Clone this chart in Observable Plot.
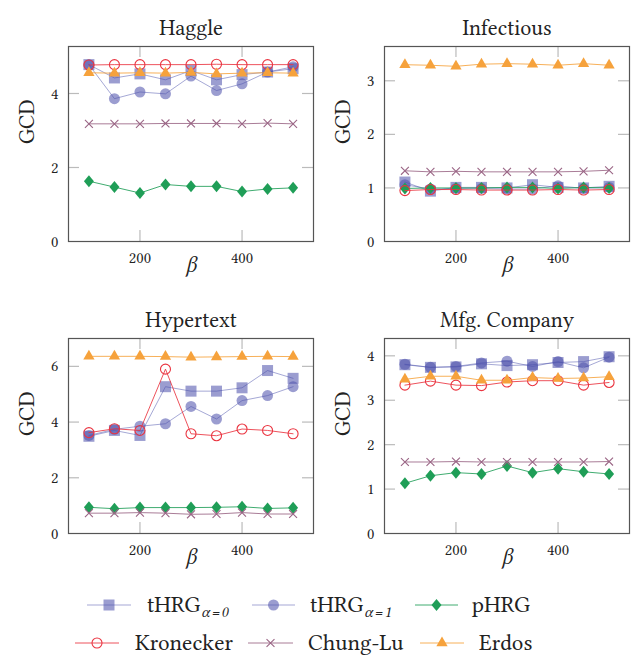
<!DOCTYPE html>
<html><head><meta charset="utf-8">
<script src="https://cdn.jsdelivr.net/npm/d3@7"></script>
<script src="https://cdn.jsdelivr.net/npm/@observablehq/plot@0.6"></script>
<style>
html,body{margin:0;padding:0;background:#fff;}
#wrap{position:relative;width:631px;height:655px;overflow:hidden;font-family:"Libertinus Serif","Liberation Serif",serif;}
#wrap > div{position:absolute;}
</style></head><body><div id="wrap"></div>
<script>
// ---------- data ----------
const betas = [100, 150, 200, 250, 300, 350, 400, 450, 500];
const seriesKeys = ["tHRG0", "tHRG1", "pHRG", "Kronecker", "ChungLu", "Erdos"];

const haggle_tHRG0     = [4.78, 4.42, 4.53, 4.37, 4.62, 4.37, 4.51, 4.58, 4.67];
const haggle_tHRG1     = [4.78, 3.86, 4.04, 3.99, 4.47, 4.08, 4.26, 4.58, 4.72];
const haggle_pHRG      = [1.63, 1.47, 1.31, 1.54, 1.49, 1.49, 1.35, 1.42, 1.45];
const haggle_Kronecker = [4.77, 4.78, 4.78, 4.78, 4.78, 4.79, 4.78, 4.78, 4.78];
const haggle_ChungLu   = [3.18, 3.18, 3.18, 3.19, 3.19, 3.19, 3.18, 3.20, 3.18];
const haggle_Erdos     = [4.56, 4.55, 4.56, 4.55, 4.57, 4.53, 4.55, 4.56, 4.55];

const infect_tHRG0     = [1.11, 0.94, 1.01, 1.01, 1.00, 1.06, 1.01, 1.00, 1.03];
const infect_tHRG1     = [1.06, 0.98, 0.99, 0.99, 0.98, 0.98, 1.04, 0.99, 1.01];
const infect_pHRG      = [0.99, 1.00, 1.00, 1.00, 1.01, 1.01, 0.99, 1.01, 1.00];
const infect_Kronecker = [0.95, 0.97, 0.97, 0.96, 0.96, 0.96, 0.97, 0.96, 0.97];
const infect_ChungLu   = [1.32, 1.30, 1.31, 1.30, 1.30, 1.30, 1.30, 1.31, 1.33];
const infect_Erdos     = [3.30, 3.29, 3.27, 3.31, 3.32, 3.31, 3.29, 3.32, 3.29];

const hyper_tHRG0      = [3.49, 3.70, 3.52, 5.27, 5.11, 5.11, 5.23, 5.85, 5.57];
const hyper_tHRG1      = [3.52, 3.74, 3.85, 3.94, 4.56, 4.11, 4.77, 4.95, 5.27];
const hyper_pHRG       = [0.94, 0.89, 0.93, 0.93, 0.93, 0.94, 0.96, 0.90, 0.92];
const hyper_Kronecker  = [3.62, 3.76, 3.70, 5.90, 3.58, 3.51, 3.75, 3.70, 3.58];
const hyper_ChungLu    = [0.73, 0.73, 0.75, 0.73, 0.69, 0.70, 0.75, 0.70, 0.70];
const hyper_Erdos      = [6.36, 6.36, 6.36, 6.35, 6.33, 6.34, 6.35, 6.36, 6.35];

const mfg_tHRG0        = [3.80, 3.74, 3.75, 3.82, 3.78, 3.80, 3.85, 3.87, 3.98];
const mfg_tHRG1        = [3.81, 3.74, 3.76, 3.84, 3.88, 3.76, 3.87, 3.73, 3.97];
const mfg_pHRG         = [1.13, 1.30, 1.37, 1.34, 1.52, 1.37, 1.46, 1.39, 1.34];
const mfg_Kronecker    = [3.34, 3.43, 3.34, 3.33, 3.41, 3.44, 3.44, 3.34, 3.40];
const mfg_ChungLu      = [1.61, 1.61, 1.62, 1.61, 1.61, 1.61, 1.61, 1.61, 1.62];
const mfg_Erdos        = [3.47, 3.54, 3.54, 3.45, 3.45, 3.51, 3.49, 3.50, 3.53];

const panelTitles = ["Haggle", "Infectious", "Hypertext", "Mfg. Company"];
const panelYMax   = [5.27, 3.64, 7.0, 4.39];
const panelYTicks = [[0, 2, 4], [0, 1, 2, 3], [0, 2, 4, 6], [0, 1, 2, 3, 4]];
const xTicks = [200, 400];
const legendLabels = ["tHRG", "tHRG", "pHRG", "Kronecker", "Chung-Lu", "Erdos"];
const legendSubs   = ["α=0", "α=1", "", "", "", ""];

const panelValues = [
  [haggle_tHRG0, haggle_tHRG1, haggle_pHRG, haggle_Kronecker, haggle_ChungLu, haggle_Erdos],
  [infect_tHRG0, infect_tHRG1, infect_pHRG, infect_Kronecker, infect_ChungLu, infect_Erdos],
  [hyper_tHRG0, hyper_tHRG1, hyper_pHRG, hyper_Kronecker, hyper_ChungLu, hyper_Erdos],
  [mfg_tHRG0, mfg_tHRG1, mfg_pHRG, mfg_Kronecker, mfg_ChungLu, mfg_Erdos]
];

// ---------- symbols ----------
const rad = size => Math.sqrt(size / Math.PI);
const symSquare = {draw(c, size){ const s = rad(size); c.rect(-s, -s, 2*s, 2*s); }};
const symCircle = {draw(c, size){ const s = rad(size); c.moveTo(s, 0); c.arc(0, 0, s, 0, 2*Math.PI); c.closePath(); }};
const symDiamond = {draw(c, size){ const s = rad(size); c.moveTo(0, -1.2*s); c.lineTo(s, 0); c.lineTo(0, 1.2*s); c.lineTo(-s, 0); c.closePath(); }};
const symTriangle = {draw(c, size){ const s = rad(size); c.moveTo(0, -s); c.lineTo(0.866*s, 0.5*s); c.lineTo(-0.866*s, 0.5*s); c.closePath(); }};
const symTimes = {draw(c, size){ const s = rad(size)*0.72; c.moveTo(-s, -s); c.lineTo(s, s); c.moveTo(s, -s); c.lineTo(-s, s); }};

const styles = {
  tHRG0:     {color: "#4c51ac", op: 0.56, lineOp: 0.5, sym: symSquare,   r: 5.5, fill: true},
  tHRG1:     {color: "#4c51ac", op: 0.56, lineOp: 0.5, sym: symCircle,   r: 5.5, fill: true},
  pHRG:      {color: "#1f9e57", op: 1,    lineOp: 0.85, sym: symDiamond,  r: 5,   fill: true},
  Kronecker: {color: "#ea3440", op: 1,    lineOp: 0.85, sym: symCircle,   r: 5,   fill: false},
  ChungLu:   {color: "#9a6585", op: 1,    lineOp: 0.85, sym: symTimes,    r: 5.5, fill: false},
  Erdos:     {color: "#f6a23c", op: 1,    lineOp: 0.85, sym: symTriangle, r: 6.5, fill: true}
};

// ---------- layout ----------
const FONT = "Libertinus Serif, Liberation Serif, serif";
const wrap = document.getElementById("wrap");
const FW = 245, FH = 195, TICK = 11;
const pos = [
  {left: 0,   top: 0,   width: 320, mr: 7},
  {left: 316, top: 0,   width: 315, mr: 2},
  {left: 0,   top: 292, width: 320, mr: 7},
  {left: 316, top: 292, width: 315, mr: 2}
];

panelTitles.forEach((title, pi) => {
  const p = pos[pi];
  const marks = [
    Plot.ruleX(xTicks, {x: d => d, stroke: "#bbbbbb", strokeWidth: 1.2, insetBottom: FH - TICK}),
    Plot.ruleX(xTicks, {x: d => d, stroke: "#bbbbbb", strokeWidth: 1.2, insetTop: FH - TICK}),
    Plot.ruleY(panelYTicks[pi].slice(1), {y: d => d, stroke: "#bbbbbb", strokeWidth: 1.2, insetRight: FW - TICK}),
    Plot.ruleY(panelYTicks[pi].slice(1), {y: d => d, stroke: "#bbbbbb", strokeWidth: 1.2, insetLeft: FW - TICK}),
    Plot.frame({stroke: "#555", strokeWidth: 1.2})
  ];
  seriesKeys.forEach((k, si) => {
    const st = styles[k];
    const rows = betas.map((b, i) => ({beta: b, v: panelValues[pi][si][i]}));
    marks.push(Plot.line(rows, {x: "beta", y: "v", stroke: st.color, strokeWidth: 1, strokeOpacity: st.lineOp}));
    marks.push(Plot.dot(rows, {
      x: "beta", y: "v", symbol: st.sym, r: st.r,
      fill: st.fill ? st.color : "none", fillOpacity: st.op,
      stroke: st.fill ? "none" : st.color, strokeWidth: 1.1
    }));
  });
  marks.push(
    Plot.axisX({ticks: xTicks, tickSize: 0, tickPadding: 10, label: null, fill: "#222", tickFormat: d => String(d), fontFamily: FONT}),
    Plot.axisY({ticks: panelYTicks[pi], tickSize: 0, tickPadding: 10, label: null, fill: "#222", tickFormat: d => String(d), fontFamily: FONT}),
    Plot.text([title], {frameAnchor: "top", dy: -27, fontSize: 22, fill: "#222", fontFamily: FONT}),
    Plot.text(["GCD"], {frameAnchor: "left", dx: -42, rotate: -90, fontSize: 22, fill: "#222", fontFamily: FONT}),
    Plot.text(["β"], {frameAnchor: "bottom", dy: 30, fontSize: 23, fontStyle: "italic", fill: "#222", fontFamily: FONT})
  );
  const chart = Plot.plot({
    width: p.width, height: 290,
    marginLeft: 68, marginRight: p.mr, marginTop: 46, marginBottom: 49,
    style: {fontFamily: FONT, fontSize: "16px", background: "transparent", color: "#222", overflow: "visible"},
    x: {domain: [60, 540]},
    y: {domain: [0, panelYMax[pi]]},
    marks
  });
  const d = document.createElement("div");
  d.style.left = p.left + "px"; d.style.top = p.top + "px";
  d.appendChild(chart);
  wrap.appendChild(d);
});

// ---------- legend ----------
const legendPos = [
  {row: 0, x0: 87,  x1: 131, tx: 147},
  {row: 0, x0: 252, x1: 295, tx: 310},
  {row: 0, x0: 415, x1: 458, tx: 472},
  {row: 1, x0: 75,  x1: 119, tx: 135},
  {row: 1, x0: 248, x1: 293, tx: 308},
  {row: 1, x0: 420, x1: 464, tx: 479}
];
const ld = document.createElement("div");
ld.style.left = "0px"; ld.style.top = "582px";
wrap.appendChild(ld);
const lsvg = d3.select(ld).append("svg").attr("width", 631).attr("height", 73)
  .attr("font-family", FONT);
seriesKeys.forEach((k, i) => {
  const st = styles[k], lp = legendPos[i];
  const cy = lp.row === 0 ? 23 : 61;
  const g = lsvg.append("g");
  g.append("line").attr("x1", lp.x0).attr("x2", lp.x1).attr("y1", cy).attr("y2", cy)
    .attr("stroke", st.color).attr("stroke-width", 1).attr("stroke-opacity", st.lineOp);
  const path = d3.path();
  st.sym.draw(path, Math.PI * st.r * st.r);
  g.append("path").attr("d", path.toString())
    .attr("transform", `translate(${(lp.x0 + lp.x1) / 2},${cy})`)
    .attr("fill", st.fill ? st.color : "none").attr("fill-opacity", st.op)
    .attr("stroke", st.fill ? "none" : st.color).attr("stroke-width", 1.1);
  const t = g.append("text").attr("x", lp.tx).attr("y", cy + 7).attr("font-size", 23).attr("fill", "#222")
    .text(legendLabels[i]);
  if (legendSubs[i]) {
    t.append("tspan").attr("dy", 5).attr("dx", 1).attr("font-size", 16).attr("font-style", "italic")
      .attr("letter-spacing", 1.5).text(legendSubs[i]);
  }
});
</script></body></html>
